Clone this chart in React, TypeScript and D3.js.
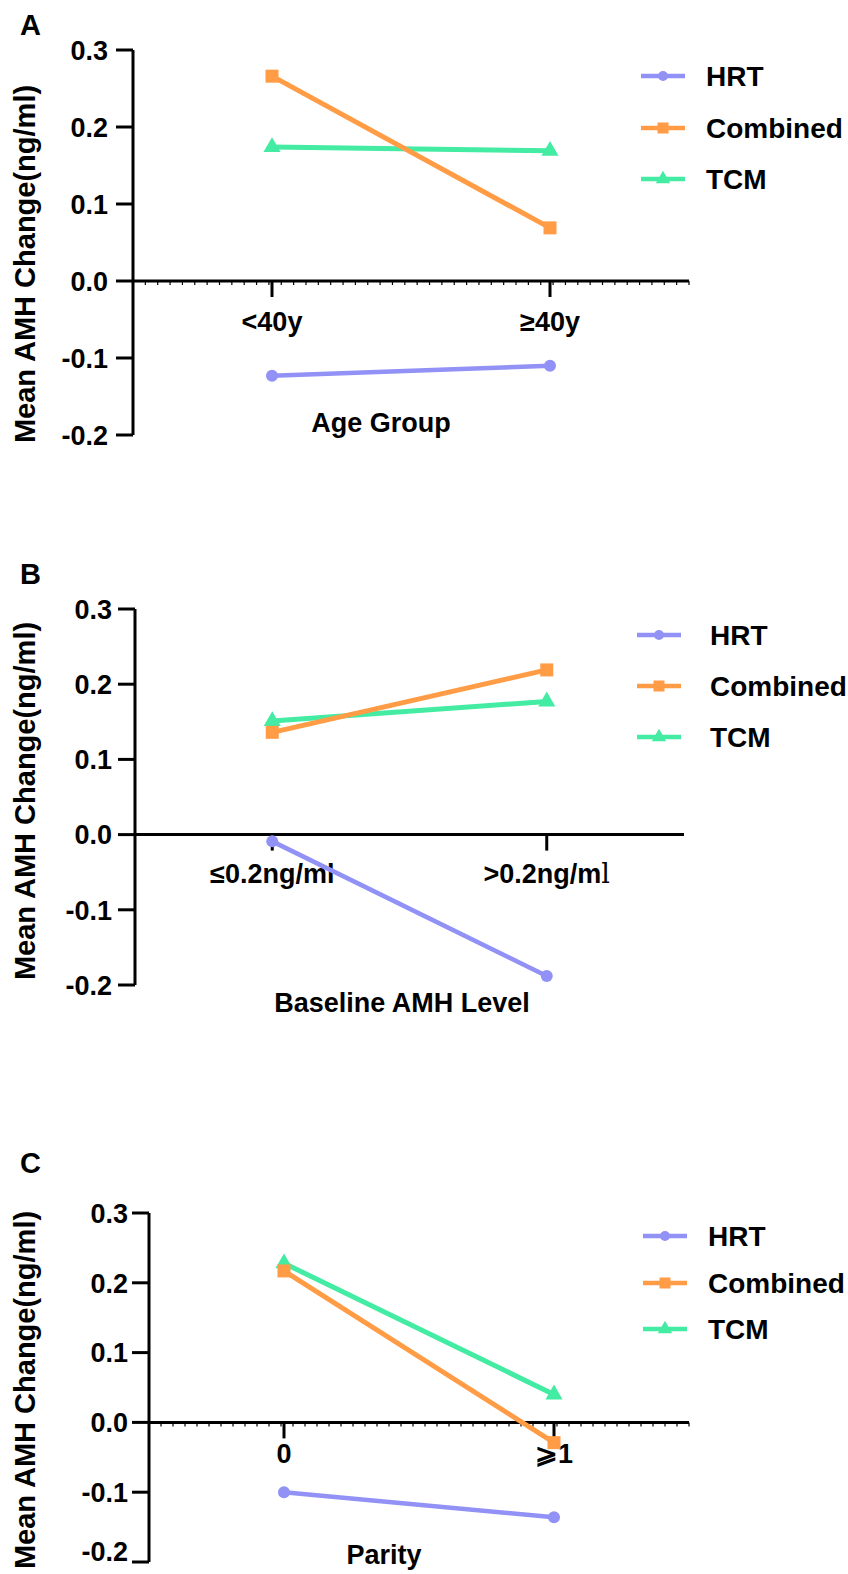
import React from 'react';
import * as d3 from 'd3';

// series shared by all three panels
const seriesNames = ['HRT', 'Combined', 'TCM'];
const seriesColors = ['#9191f6', '#ff9c45', '#43eba3'];

// panel A - age group
const ageCategories = ['<40y', '≥40y'];
const ageHRT = [-0.123, -0.11];
const ageCombined = [0.266, 0.069];
const ageTCM = [0.174, 0.169];

// panel B - baseline AMH level
const amhCategories = ['≤0.2ng/ml', '>0.2ng/ml'];
const amhHRT = [-0.009, -0.188];
const amhCombined = [0.136, 0.219];
const amhTCM = [0.151, 0.177];

// panel C - parity
const parityCategories = ['0', '⩾1'];
const parityHRT = [-0.1, -0.136];
const parityCombined = [0.217, -0.029];
const parityTCM = [0.228, 0.04];

const yTicks = [0.3, 0.2, 0.1, 0.0, -0.1, -0.2];
const yDomain = [-0.2, 0.3];

const FONT = "'Liberation Sans', Arial, Helvetica, sans-serif";

const panels = [
  {
    letter: 'A', letterY: 35,
    categories: ageCategories,
    values: [ageHRT, ageCombined, ageTCM],
    xTitle: 'Age Group', xTitleX: 381, xTitleY: 432,
    axisX: 133, axisRight: 689, yTop: 50, yBottom: 435,
    catLabelDy: 50, minorTicks: true,
    titleY: 264, tickGap: 25,
    legendX: 641, legendTextX: 706, legendY: [76, 128, 179],
  },
  {
    letter: 'B', letterY: 584,
    categories: amhCategories,
    values: [amhHRT, amhCombined, amhTCM],
    xTitle: 'Baseline AMH Level', xTitleX: 402, xTitleY: 1012,
    axisX: 135, axisRight: 684, yTop: 609, yBottom: 985,
    catLabelDy: 48, minorTicks: false,
    titleY: 801, tickGap: 23,
    legendX: 637, legendTextX: 710, legendY: [635, 686, 737],
  },
  {
    letter: 'C', letterY: 1173,
    categories: parityCategories,
    values: [parityHRT, parityCombined, parityTCM],
    xTitle: 'Parity', xTitleX: 384, xTitleY: 1564,
    axisX: 149, axisRight: 689, yTop: 1213, yBottom: 1562,
    catLabelDy: 41, minorTicks: true,
    titleY: 1390, tickGap: 21,
    legendX: 643, legendTextX: 708, legendY: [1236, 1283, 1329],
  },
];

function Marker({ kind, x, y, color, size }) {
  if (kind === 0) return <circle cx={x} cy={y} r={size / 2} fill={color} />;
  if (kind === 1)
    return <rect x={x - size / 2} y={y - size / 2} width={size} height={size} fill={color} />;
  const path = d3.symbol(d3.symbolTriangle, size * size * 0.75)();
  return <path d={path} transform={`translate(${x},${y})`} fill={color} />;
}

function Panel({ p }) {
  const x = d3
    .scalePoint()
    .domain(p.categories)
    .range([p.axisX, p.axisRight])
    .padding(0.5);
  const y = d3.scaleLinear().domain(yDomain).range([p.yBottom, p.yTop]);
  const zeroY = y(0);

  const line = d3
    .line()
    .x((d, i) => x(p.categories[i]))
    .y((d) => y(d));

  const minor = p.minorTicks
    ? d3.range(0, 46).map((i) => p.axisX + (i * (p.axisRight - p.axisX)) / 45)
    : [];

  const drawOrder = [0, 2, 1];

  return (
    <g>
      <text x={20} y={p.letterY} fontSize={29} fontWeight="bold" fontFamily={FONT}>
        {p.letter}
      </text>

      {/* y axis */}
      <line x1={p.axisX} x2={p.axisX} y1={p.yTop} y2={p.yBottom} stroke="#000" strokeWidth={3} />
      {yTicks.map((t) => (
        <g key={t}>
          <line x1={p.axisX - 17} x2={p.axisX} y1={y(t)} y2={y(t)} stroke="#000" strokeWidth={3} />
          <text
            x={p.axisX - p.tickGap}
            y={Math.min(y(t), 1551)}
            dy="0.36em"
            textAnchor="end"
            fontSize={27}
            fontWeight="bold"
            fontFamily={FONT}
          >
            {t.toFixed(1)}
          </text>
        </g>
      ))}
      <text
        transform={`translate(35,${p.titleY}) rotate(-90)`}
        textAnchor="middle"
        fontSize={29}
        fontWeight="bold"
        fontFamily={FONT}
      >
        Mean AMH Change(ng/ml)
      </text>

      {/* x axis at zero */}
      <line x1={p.axisX} x2={p.axisRight} y1={zeroY} y2={zeroY} stroke="#000" strokeWidth={3} />
      {minor.map((m, i) => (
        <line key={i} x1={m} x2={m} y1={zeroY} y2={zeroY + 4} stroke="#000" strokeWidth={1.2} />
      ))}
      {p.categories.map((c) => (
        <g key={c}>
          <line x1={x(c)} x2={x(c)} y1={zeroY} y2={zeroY + 16} stroke="#000" strokeWidth={3} />
          <text
            x={x(c)}
            y={zeroY + p.catLabelDy}
            textAnchor="middle"
            fontSize={27}
            fontWeight="bold"
            fontFamily={FONT}
          >
            {c === '>0.2ng/ml' ? (
              <>
                {'>0.2ng/m'}
                <tspan fontFamily="'DejaVu Serif', serif" fontWeight="normal">l</tspan>
              </>
            ) : (
              c
            )}
          </text>
        </g>
      ))}
      <text x={p.xTitleX} y={p.xTitleY} textAnchor="middle" fontSize={27} fontWeight="bold" fontFamily={FONT}>
        {p.xTitle}
      </text>

      {/* series */}
      {drawOrder.map((s) => (
        <g key={seriesNames[s]}>
          <path d={line(p.values[s])} fill="none" stroke={seriesColors[s]} strokeWidth={s === 0 ? 4.5 : 5} />
          {p.values[s].map((v, i) => (
            <Marker key={i} kind={s} x={x(p.categories[i])} y={y(v)} color={seriesColors[s]} size={s === 0 ? 12 : 13} />
          ))}
        </g>
      ))}

      {/* legend */}
      {seriesNames.map((name, s) => (
        <g key={name}>
          <line
            x1={p.legendX}
            x2={p.legendX + 44}
            y1={p.legendY[s]}
            y2={p.legendY[s]}
            stroke={seriesColors[s]}
            strokeWidth={4.5}
          />
          <Marker kind={s} x={p.legendX + 22} y={p.legendY[s]} color={seriesColors[s]} size={s === 0 ? 10 : 11} />
          <text
            x={p.legendTextX}
            y={p.legendY[s]}
            dy="0.36em"
            fontSize={28}
            fontWeight="bold"
            fontFamily={FONT}
          >
            {name}
          </text>
        </g>
      ))}
    </g>
  );
}

export default function App() {
  return (
    <svg
      width={848}
      height={1574}
      style={{ position: 'absolute', left: 0, top: 0, display: 'block', background: '#fff' }}
    >
      <rect width={848} height={1574} fill="#fff" />
      {panels.map((p) => (
        <Panel key={p.letter} p={p} />
      ))}
    </svg>
  );
}
